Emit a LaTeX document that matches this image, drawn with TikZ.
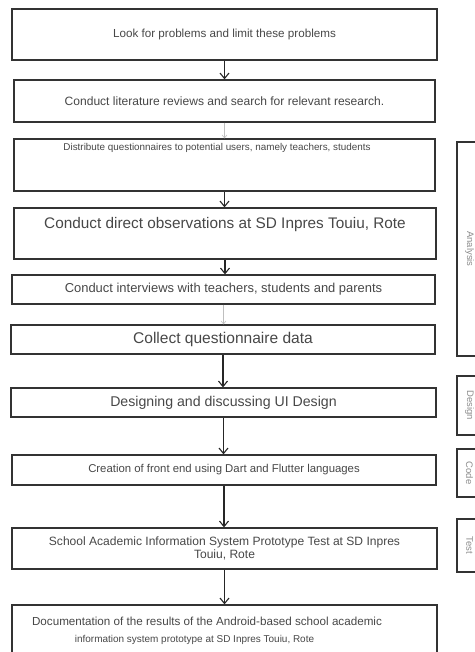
\documentclass[tikz,border=0pt]{standalone}
\usepackage{fontspec}
\setmainfont{Liberation Sans}
\usetikzlibrary{arrows.meta}

\begin{document}
\begin{tikzpicture}[x=1bp,y=-1bp,
  stage/.style={draw=black!80,line width=1.2bp,text=black!72,align=center,inner sep=0pt},
  phase/.style={draw=black!80,line width=1.2bp,text=black!45,rotate=-90,inner sep=0pt,font=\fontsize{9.5}{11}\selectfont},
  flow/.style={-{Straight Barb[length=5.5bp,width=9bp]},line width=1.1bp,black!85},
  faint/.style={-{Straight Barb[length=3bp,width=5bp]},line width=0.6bp,black!25}]
  \useasboundingbox (0,0) rectangle (475,652);
  \clip (0,0) rectangle (475,652);
  % steps
  \node[stage,minimum width=425bp,minimum height=51bp,font=\fontsize{11.7}{14}\selectfont] (problem) at (224.5,34.5) {Look for problems and limit these problems};
  \node[stage,minimum width=421bp,minimum height=42bp,font=\fontsize{12.1}{14}\selectfont] (literature) at (224.5,101) {Conduct literature reviews and search for relevant research.};
  \node[stage,minimum width=421bp,minimum height=52bp,text depth=36bp,font=\fontsize{9.9}{12}\selectfont] (questionnaire) at (224.5,165) {Distribute questionnaires to potential users, namely teachers, students\hspace*{15bp}};
  \node[stage,minimum width=422bp,minimum height=51bp,text depth=22bp,font=\fontsize{15.4}{18}\selectfont] (observation) at (225,233.5) {Conduct direct observations at SD Inpres Touiu, Rote};
  \node[stage,minimum width=423bp,minimum height=29bp,font=\fontsize{13}{15}\selectfont] (interview) at (223.5,289.5) {Conduct interviews with teachers, students and parents};
  \node[stage,minimum width=424bp,minimum height=29bp,font=\fontsize{15.6}{18}\selectfont] (collect) at (223,339.5) {Collect questionnaire data};
  \node[stage,minimum width=425bp,minimum height=29bp,font=\fontsize{14.2}{17}\selectfont] (uidesign) at (223.5,402.5) {Designing and discussing UI Design};
  \node[stage,minimum width=424bp,minimum height=30bp,font=\fontsize{11.4}{14}\selectfont] (frontend) at (224,470) {Creation of front end using Dart and Flutter languages};
  \node[stage,minimum width=425bp,minimum height=41bp,font=\fontsize{12.1}{13}\selectfont] (test) at (224.5,548.5) {School Academic Information System Prototype Test at SD Inpres\\Touiu, Rote};
  \node[stage,minimum width=425bp,minimum height=51bp,font=\fontsize{11.7}{17}\selectfont] (documentation) at (224.5,630.5) {Documentation of the results of the Android-based school academic\hspace*{35bp}\\{\fontsize{10}{17}\selectfont information system prototype at SD Inpres Touiu, Rote\hspace*{60bp}}};
  % phases
  \node[phase,minimum width=214bp,minimum height=25bp] (analysis) at (469.5,249) {Analysis};
  \node[phase,minimum width=59bp,minimum height=25bp] (design) at (469.5,405.5) {Design};
  \node[phase,minimum width=48bp,minimum height=25bp] (code) at (469.5,473) {Code};
  \node[phase,minimum width=53bp,minimum height=25bp] (testing) at (469.5,545.5) {Test};
  % arrows
  \foreach \a/\b in {problem/literature,questionnaire/observation,observation/interview,collect/uidesign,uidesign/frontend,frontend/test,test/documentation}
    \draw[flow] (\a.south) -- (\a.south |- \b.north);
  \foreach \a/\b in {literature/questionnaire,interview/collect}
    \draw[faint] (\a.south) -- (\a.south |- \b.north);
\end{tikzpicture}
\end{document}
